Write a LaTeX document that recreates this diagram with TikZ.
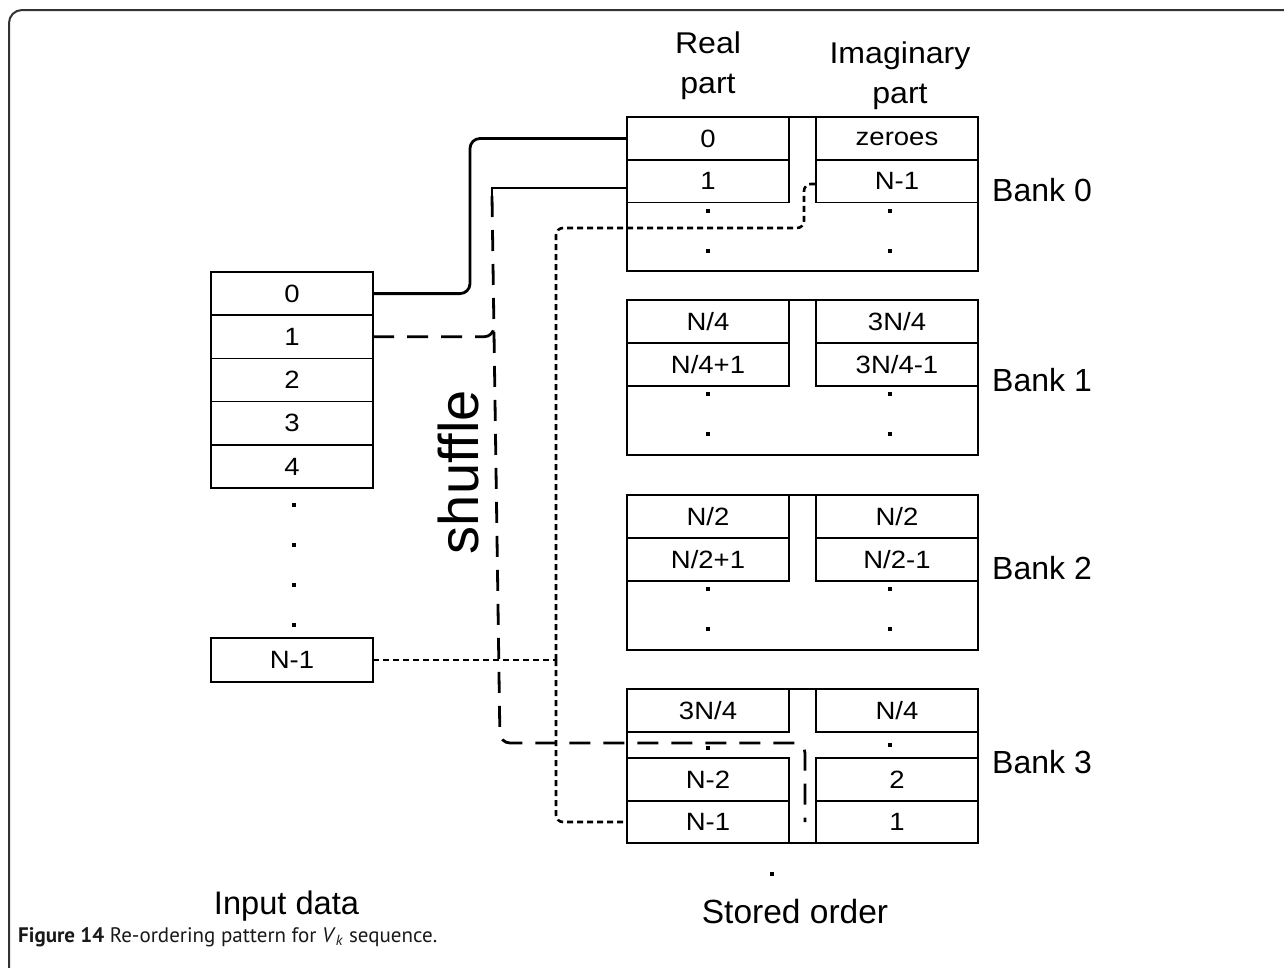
\documentclass[tikz,border=0pt]{standalone}
\usepackage{fontspec}
\setmainfont{Liberation Sans}
\newfontfamily\cellfont[FakeStretch=1.1]{Liberation Sans}
\newfontfamily\headfont[FakeStretch=1.07]{Liberation Sans}
\newfontfamily\capfont{PT Sans}
\usetikzlibrary{calc}

\tikzset{
  boxline/.style={line width=1.6pt},
  cell/.style={draw, line width=1.6pt, minimum width=162pt, minimum height=42.6pt,
    inner sep=0pt, outer sep=0pt, font=\cellfont\fontsize{25}{30}\selectfont},
  incell/.style={cell, minimum height=43.2pt},
  dotmark/.style={fill, rectangle, minimum size=4.6pt, inner sep=0pt},
  thickline/.style={line width=2.8pt, rounded corners=10pt},
  thinline/.style={line width=1.8pt},
  longdash/.style={line width=2.8pt, dash pattern=on 21pt off 13pt, rounded corners=10pt},
  dotline/.style={line width=2.6pt, dash pattern=on 6pt off 4pt, rounded corners=7pt},
  banklabel/.style={anchor=west, inner sep=0pt, font=\fontsize{32}{38}\selectfont},
  header/.style={anchor=north, inner sep=0pt, align=center, font=\headfont\fontsize{30}{39.5}\selectfont},
}

\begin{document}
\begin{tikzpicture}[x=1pt, y=-1pt]
\useasboundingbox (0,0) rectangle (1284,967);
\clip (0,0) rectangle (1284,967);
\fill[white] (0,0) rectangle (1284,967);

% outer frame of the figure panel
\draw[line width=2pt, draw=black!80, rounded corners=13pt] (9,10) rectangle (1310,985);

% column headings
\node[header] (hreal) at (708,32) {Real\\part};
\node[header] (himag) at (900,42) {Imaginary\\part};

% ---------- input data column ----------
\node[incell] (in0) at (292,293.6) {0};
\node[incell] (in1) at (292,336.8) {1};
\node[incell] (in2) at (292,380.0) {2};
\node[incell] (in3) at (292,423.2) {3};
\node[incell] (in4) at (292,466.4) {4};
\node[dotmark] (ind1) at (294,505) {};
\node[dotmark] (ind2) at (294,545) {};
\node[dotmark] (ind3) at (294,585) {};
\node[dotmark] (ind4) at (294,625) {};
\node[cell, minimum height=44pt] (inN) at (292,660) {N-1};
\node[anchor=base, inner sep=0pt, font=\fontsize{32.6}{38}\selectfont] (inlabel) at (286.5,914) {Input data};

% ---------- bank 0 ----------
\draw[boxline] (627,117) rectangle (978,271);
\node[cell] (b0r0) at (708,138.5) {0};
\node[cell] (b0r1) at (708,181) {1};
\node[cell] (b0i0) at (897,138.5) {zeroes};
\node[cell] (b0i1) at (897,181) {N-1};
\node[dotmark] (b0d1) at (708,211) {};
\node[dotmark] (b0d2) at (708,251) {};
\node[dotmark] (b0d3) at (890,211) {};
\node[dotmark] (b0d4) at (890,251) {};
\node[banklabel] (bank0) at (992,190) {Bank 0};

% ---------- bank 1 ----------
\draw[boxline] (627,300) rectangle (978,455);
\node[cell] (b1r0) at (708,321.5) {N/4};
\node[cell] (b1r1) at (708,364.5) {N/4+1};
\node[cell] (b1i0) at (897,321.5) {3N/4};
\node[cell] (b1i1) at (897,364.5) {3N/4-1};
\node[dotmark] (b1d1) at (708,394) {};
\node[dotmark] (b1d2) at (708,434) {};
\node[dotmark] (b1d3) at (890,394) {};
\node[dotmark] (b1d4) at (890,434) {};
\node[banklabel] (bank1) at (992,380) {Bank 1};

% ---------- bank 2 ----------
\draw[boxline] (627,495) rectangle (978,650);
\node[cell] (b2r0) at (708,516.5) {N/2};
\node[cell] (b2r1) at (708,559.5) {N/2+1};
\node[cell] (b2i0) at (897,516.5) {N/2};
\node[cell] (b2i1) at (897,559.5) {N/2-1};
\node[dotmark] (b2d1) at (708,589) {};
\node[dotmark] (b2d2) at (708,629) {};
\node[dotmark] (b2d3) at (890,589) {};
\node[dotmark] (b2d4) at (890,629) {};
\node[banklabel] (bank2) at (992,568) {Bank 2};

% ---------- bank 3 ----------
\draw[boxline] (627,689) rectangle (978,843);
\node[cell] (b3r0) at (708,710.5) {3N/4};
\node[cell] (b3i0) at (897,710.5) {N/4};
\node[dotmark] (b3d1) at (708,748) {};
\node[dotmark] (b3d2) at (890,745) {};
\node[cell] (b3r2) at (708,779.5) {N-2};
\node[cell] (b3i2) at (897,779.5) {2};
\node[cell] (b3r3) at (708,822) {N-1};
\node[cell] (b3i3) at (897,822) {1};
\node[banklabel] (bank3) at (992,762) {Bank 3};
\node[dotmark] (b3d3) at (772,874) {};
\node[anchor=base, inner sep=0pt, font=\fontsize{33.5}{40}\selectfont] (storelabel) at (795,923) {Stored order};

% ---------- shuffle connectors ----------
\coordinate (shufTop) at (492,196);
\coordinate (shufBend) at (500,743);
\coordinate (gapEnd) at (805,822);
\coordinate (split) at (556,660);

% element 0 goes straight to bank 0
\draw[thickline] (in0.east) -- ++(97,0) |- (b0r0.west);

% element 1: real part of bank 0 and imaginary part of bank 3
\draw[thinline] ($(b0r1.west)+(0,7)$) -| (shufTop);
\draw[longdash] (shufTop) -- (shufBend) -| (gapEnd);
\draw[longdash] (in1.east) -- ++(121,0) -- ++(0,-16);

% element N-1: real part of bank 3 and imaginary part of bank 0
\draw[dotline] (inN.east) -- (split);
\draw[dotline] (split) |- (b3r3.west);
\draw[dotline] (split) |- (804,228) |- ($(b0i1.west)+(0,3)$);

\node[rotate=90, anchor=base, inner sep=0pt, font=\fontsize{56}{60}\selectfont] (shuffle) at (478,472) {shuffle};

% caption
\node[anchor=base west, inner sep=0pt, text=black!90, font=\capfont\fontsize{21}{25}\selectfont] (caption) at (18,942)
  {\textbf{Figure 14} Re-ordering pattern for \textit{V}\textsubscript{\textit{k}} sequence.};
\end{tikzpicture}
\end{document}
